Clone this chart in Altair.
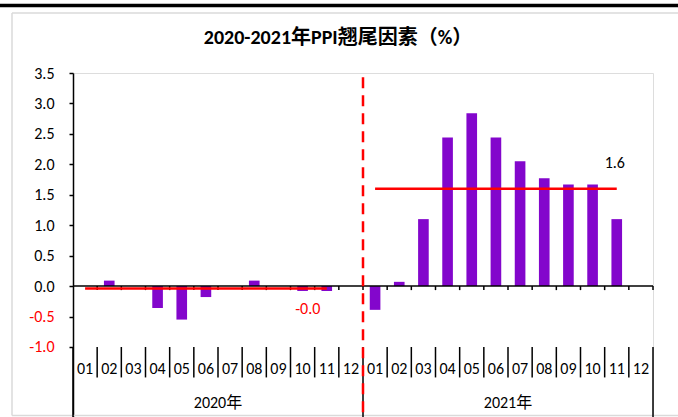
import altair as alt
import pandas as pd

# ---------------- data ----------------
title_text = "2020-2021年PPI翘尾因素（%）"
years = ["2020年", "2021年"]
months = ["01", "02", "03", "04", "05", "06", "07", "08", "09", "10", "11", "12"]
values_2020 = [0.0, 0.09, 0.0, -0.36, -0.55, -0.18, 0.0, 0.09, 0.0, -0.08, -0.08, None]
values_2021 = [-0.39, 0.07, 1.10, 2.44, 2.84, 2.44, 2.05, 1.77, 1.67, 1.67, 1.10, None]
avg_values = [-0.04, 1.60]
avg_labels = ["-0.0", "1.6"]
y_ticks = [-1.0, -0.5, 0.0, 0.5, 1.0, 1.5, 2.0, 2.5, 3.0, 3.5]

# ---------------- tables ----------------
series = [values_2020, values_2021]
n_m = len(months)
n_all = n_m * len(years)

bar_rows = []
for yi, (yr, vals) in enumerate(zip(years, series)):
    for mi, (m, v) in enumerate(zip(months, vals)):
        bar_rows.append({"year": yr, "month": m, "idx": yi * n_m + mi, "value": v})
bars_df = pd.DataFrame(bar_rows)

avg_rows = []
for yi, (yr, vals, a, lab) in enumerate(zip(years, series, avg_values, avg_labels)):
    last = max(i for i, v in enumerate(vals) if v is not None)
    avg_rows.append({"year": yr, "avg": a, "label": lab,
                     "start": yi * n_m + 0.5, "end": yi * n_m + last + 0.5})
avg_df = pd.DataFrame(avg_rows)

bound_df = pd.DataFrame({"b": list(range(n_all + 1))})
bound_df["is_year"] = bound_df["b"] % n_m == 0
year_df = pd.DataFrame({"year": years, "center": [yi * n_m + n_m / 2 for yi in range(len(years))]})

# ---------------- layout constants ----------------
Y_MIN, Y_MAX = -2.15, 3.5
SEP_TOP = -1.0
MONTH_SEP_BOTTOM = -1.5
MONTH_LABEL_Y = -1.36
YEAR_LABEL_Y = -1.92
FONT = "Carlito, Lato, Noto Sans CJK SC, sans-serif"
PURPLE = "#8306CC"
RED = "#FF0000"
FS = 16

xs = alt.Scale(domain=[0, n_all], nice=False, zero=False)
ys = alt.Scale(domain=[Y_MIN, Y_MAX], nice=False, zero=False)

y_axis = alt.Axis(
    values=y_ticks, title=None, grid=False, labelOverlap=False,
    labelExpr="replace(format(datum.value, '.1f'), '\u2212', '-')",
    labelColor={"expr": "datum.value < 0 ? '#FF0000' : '#000000'"},
    labelFont=FONT, labelFontSize=FS, labelPadding=15,
    domainColor="black", domainWidth=1.5, tickColor="black", tickSize=4, tickWidth=1.5,
)


def X(field):
    return alt.X(field, scale=xs, axis=None)


def Y(field):
    return alt.Y(field, scale=ys, axis=y_axis)


one = pd.DataFrame({"k": [0]})

# decorations: page top bar, light frame, title
top_bar = alt.Chart(one).mark_rule(color="black", strokeWidth=3.5).encode(
    x=alt.value(-73), x2=alt.value(605), y=alt.value(-67.5))
frame_top = alt.Chart(one).mark_rule(color="#DADADA", strokeWidth=1.5).encode(
    x=alt.value(-61), x2=alt.value(605), y=alt.value(-60))
frame_left = alt.Chart(one).mark_rule(color="#DADADA", strokeWidth=1.5).encode(
    x=alt.value(-61), y=alt.value(-60), y2=alt.value(342.5))
frame_bottom = alt.Chart(one).mark_rule(color="#DADADA", strokeWidth=1.5).encode(
    x=alt.value(-61), x2=alt.value(605), y=alt.value(342.5))
title = alt.Chart(pd.DataFrame({"t": [title_text]})).mark_text(
    font=FONT, fontSize=20, fontWeight="bold", color="black", baseline="middle").encode(
    x=alt.value(265), y=alt.value(-35), text="t:N")

bars = alt.Chart(bars_df).transform_filter("isValid(datum.value) && datum.value != 0").transform_calculate(
    x0="datum.idx + 0.28", x1="datum.idx + 0.72"
).mark_bar(color=PURPLE).encode(
    x=X("x0:Q"), x2="x1:Q",
    y=Y("value:Q"), y2=alt.datum(0),
)

zero_line = alt.Chart(pd.DataFrame({"a": [0], "b": [n_all], "v": [0]})).mark_rule(
    color="black", strokeWidth=1.5).encode(x=X("a:Q"), x2="b:Q", y=Y("v:Q"))

x_ticks = alt.Chart(bound_df).transform_filter("datum.b > 0").transform_calculate(
    z0="0", z1="-0.066").mark_rule(color="black", strokeWidth=1.5).encode(
    x=X("b:Q"), y=Y("z0:Q"), y2="z1:Q")

avg_lines = alt.Chart(avg_df).mark_rule(color=RED, strokeWidth=2.5).encode(
    x=X("start:Q"), x2="end:Q", y=Y("avg:Q"))

lab_neg = alt.Chart(avg_df).transform_filter("datum.avg < 0").mark_text(
    color=RED, font=FONT, fontSize=FS, dx=-19, dy=20).encode(
    x=X("end:Q"), y=Y("avg:Q"), text="label:N")
lab_pos = alt.Chart(avg_df).transform_filter("datum.avg >= 0").mark_text(
    color="black", font=FONT, fontSize=FS, dx=-2, dy=-26).encode(
    x=X("end:Q"), y=Y("avg:Q"), text="label:N")

month_seps = alt.Chart(bound_df).transform_calculate(
    t=str(SEP_TOP), bt=f"datum.is_year ? {Y_MIN} : {MONTH_SEP_BOTTOM}"
).mark_rule(color="black", strokeWidth=1.5).encode(
    x=X("b:Q"), y=Y("t:Q"), y2="bt:Q")

divider = alt.Chart(pd.DataFrame({"b": [n_m], "t": [3.43], "bt": [Y_MIN]})).mark_rule(
    color=RED, strokeWidth=2.5, strokeDash=[11, 7]).encode(
    x=X("b:Q"), y=Y("t:Q"), y2="bt:Q")

month_labels = alt.Chart(bars_df).transform_calculate(
    c="datum.idx + 0.5", ly=str(MONTH_LABEL_Y)
).mark_text(font=FONT, fontSize=FS, color="black", baseline="middle").encode(
    x=X("c:Q"), y=Y("ly:Q"), text="month:N")

year_labels = alt.Chart(year_df).transform_calculate(ly=str(YEAR_LABEL_Y)).mark_text(
    font=FONT, fontSize=FS, color="black", baseline="middle").encode(
    x=X("center:Q"), y=Y("ly:Q"), text="year:N")

chart = alt.layer(
    top_bar, frame_top, frame_left, frame_bottom, title,
    bars, zero_line, x_ticks, avg_lines, lab_neg, lab_pos,
    month_seps, divider, month_labels, year_labels,
).properties(
    width=580, height=344,
    autosize=alt.AutoSizeParams(type="none"),
    padding={"left": 73, "top": 73, "right": 25, "bottom": 0},
).configure_view(strokeWidth=0, stroke="transparent").configure(background="white")

chart.save("out.html", embed_options={"renderer": "svg", "actions": False})
